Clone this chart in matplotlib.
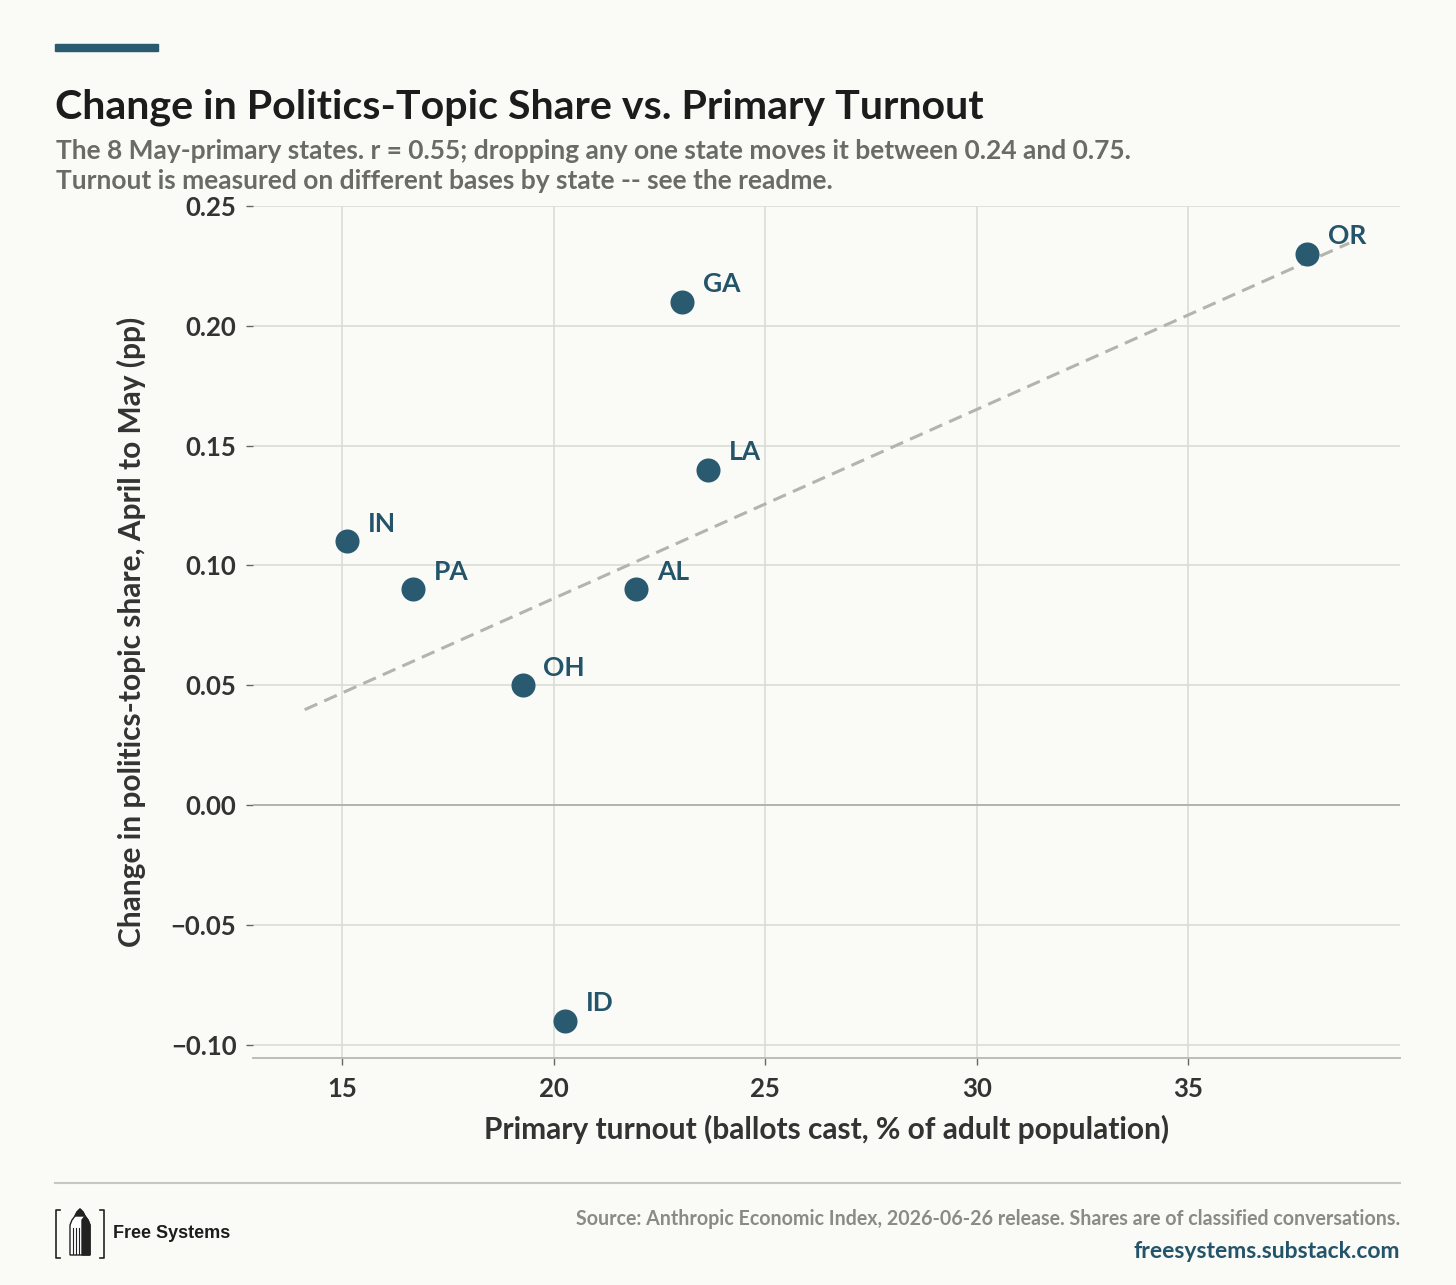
import numpy as np
import matplotlib.pyplot as plt
from matplotlib.patches import Rectangle, Polygon
from matplotlib.lines import Line2D

# data
states = ['IN', 'PA', 'OH', 'ID', 'AL', 'GA', 'LA', 'OR']
turnout = [15.12, 16.68, 19.27, 20.28, 21.95, 23.03, 23.66, 37.8]
change = [0.11, 0.09, 0.05, -0.09, 0.09, 0.21, 0.14, 0.23]

x_ticks = [15, 20, 25, 30, 35]
y_ticks = [-0.10, -0.05, 0.00, 0.05, 0.10, 0.15, 0.20, 0.25]

BG = '#fafaf6'
DOT = '#2a5a70'
LABEL = '#24546a'
DARK = '#1c1c1c'
GREY = '#6a6a66'

plt.rcParams['font.family'] = ['Lato', 'DejaVu Sans']

fig = plt.figure(figsize=(14.56, 12.85), dpi=100, facecolor=BG)
ax = fig.add_axes([0.1738, 0.1767, 0.7877, 0.6630])
ax.set_facecolor(BG)

# trend line through the points, from min-1 to max+1
slope, icpt = np.polyfit(turnout, change, 1)
xs = np.array([min(turnout) - 1, max(turnout) + 1])
ax.plot(xs, slope * xs + icpt, ls=(0, (4.5, 2.5)), color='#b4b4ae', lw=2.2, zorder=2)

ax.scatter(turnout, change, s=300, color=DOT, zorder=3, linewidths=0)
for st, x, y in zip(states, turnout, change):
    ax.annotate(st, (x, y), xytext=(15, 7), textcoords='offset points',
                fontsize=19, fontweight='bold', color=LABEL, zorder=4)

ax.axhline(0, color='#b0b0aa', lw=1.3, zorder=1)
ax.set_xlim(12.9, 40.0)
ax.set_ylim(-0.1055, 0.25)
ax.set_xticks(x_ticks)
ax.set_yticks(y_ticks)
ax.set_yticklabels(['\u22120.10', '\u22120.05', '0.00', '0.05', '0.10', '0.15', '0.20', '0.25'])
ax.grid(True, color='#dcdcd6', lw=1.2, zorder=0)
ax.set_axisbelow(True)
for s in ['top', 'right', 'left']:
    ax.spines[s].set_visible(False)
ax.spines['bottom'].set_color('#b8b8b0')
ax.spines['bottom'].set_linewidth(1.3)
ax.tick_params(axis='both', colors='#666662', length=5, width=1, labelsize=18.5, pad=7)
for lbl in ax.get_xticklabels() + ax.get_yticklabels():
    lbl.set_color('#333333')
    lbl.set_fontweight('bold')
ax.tick_params(axis='x', pad=9)

ax.set_xlabel('Primary turnout (ballots cast, % of adult population)', fontsize=21.5,
              fontweight='bold', color='#333333', labelpad=10)
ax.set_ylabel('Change in politics-topic share, April to May (pp)', fontsize=21.5,
              fontweight='bold', color='#333333', labelpad=18)

# header
fig.patches.append(Rectangle((55 / 1456, 1 - 51 / 1285), 103 / 1456, 7 / 1285,
                             transform=fig.transFigure, color=DOT))
fig.text(55 / 1456, 1 - 107 / 1285, 'Change in Politics-Topic Share vs. Primary Turnout',
         fontsize=29.6, fontweight='bold', color=DARK, va='center')
fig.text(56 / 1456, 1 - 151 / 1285,
         'The 8 May-primary states. r = 0.55; dropping any one state moves it between 0.24 and 0.75.',
         fontsize=19, fontweight='bold', color=GREY, va='center')
fig.text(56 / 1456, 1 - 181 / 1285,
         'Turnout is measured on different bases by state -- see the readme.',
         fontsize=19, fontweight='bold', color=GREY, va='center')

# footer
fig.lines.append(Line2D([55 / 1456, 1400 / 1456], [1 - 1183 / 1285] * 2,
                        transform=fig.transFigure, color='#c8c8c0', lw=1.5))
fig.text(1400 / 1456, 1 - 1219 / 1285,
         'Source: Anthropic Economic Index, 2026-06-26 release. Shares are of classified conversations.',
         fontsize=14.1, fontweight='bold', color='#8a8a86', ha='right', va='center')
fig.text(1400 / 1456, 1 - 1252 / 1285, 'freesystems.substack.com',
         fontsize=16.5, fontweight='bold', color=LABEL, ha='right', va='center')

# logo: brackets and a small tower
def fx(px):
    return px / 1456


def fy(py):
    return 1 - py / 1285


bk = '#222222'
for xa, sgn in [(56, 1), (104, -1)]:
    fig.lines.append(Line2D([fx(xa + 4 * sgn), fx(xa), fx(xa), fx(xa + 4 * sgn)],
                            [fy(1210), fy(1210), fy(1258), fy(1258)],
                            transform=fig.transFigure, color=bk, lw=1.2))
tower = [(70, 1255), (70, 1225), (72, 1220), (75, 1216), (77, 1212), (80, 1209),
         (83, 1212), (85, 1216), (88, 1220), (90, 1225), (90, 1255)]
fig.patches.append(Polygon([(fx(a), fy(b)) for a, b in tower], closed=True,
                           transform=fig.transFigure, facecolor='white', edgecolor=bk, lw=1))
fig.patches.append(Polygon([(fx(a), fy(b)) for a, b in
                            [(82, 1255), (82, 1220), (85, 1216), (88, 1220), (90, 1225), (90, 1255)]],
                           closed=True, transform=fig.transFigure, color=bk))
fig.patches.append(Polygon([(fx(a), fy(b)) for a, b in
                            [(75, 1216), (77, 1212), (80, 1209), (83, 1212), (85, 1216)]],
                           closed=True, transform=fig.transFigure, color=bk))
for xa in [73, 76, 79]:
    fig.lines.append(Line2D([fx(xa), fx(xa)], [fy(1228), fy(1254)],
                            transform=fig.transFigure, color=bk, lw=0.8))
fig.text(fx(113), fy(1233), 'Free Systems', fontsize=13, fontweight='bold',
         color=DARK, va='center', family=['Liberation Sans', 'DejaVu Sans'])

fig.savefig('out.png', dpi=100, facecolor=BG)
